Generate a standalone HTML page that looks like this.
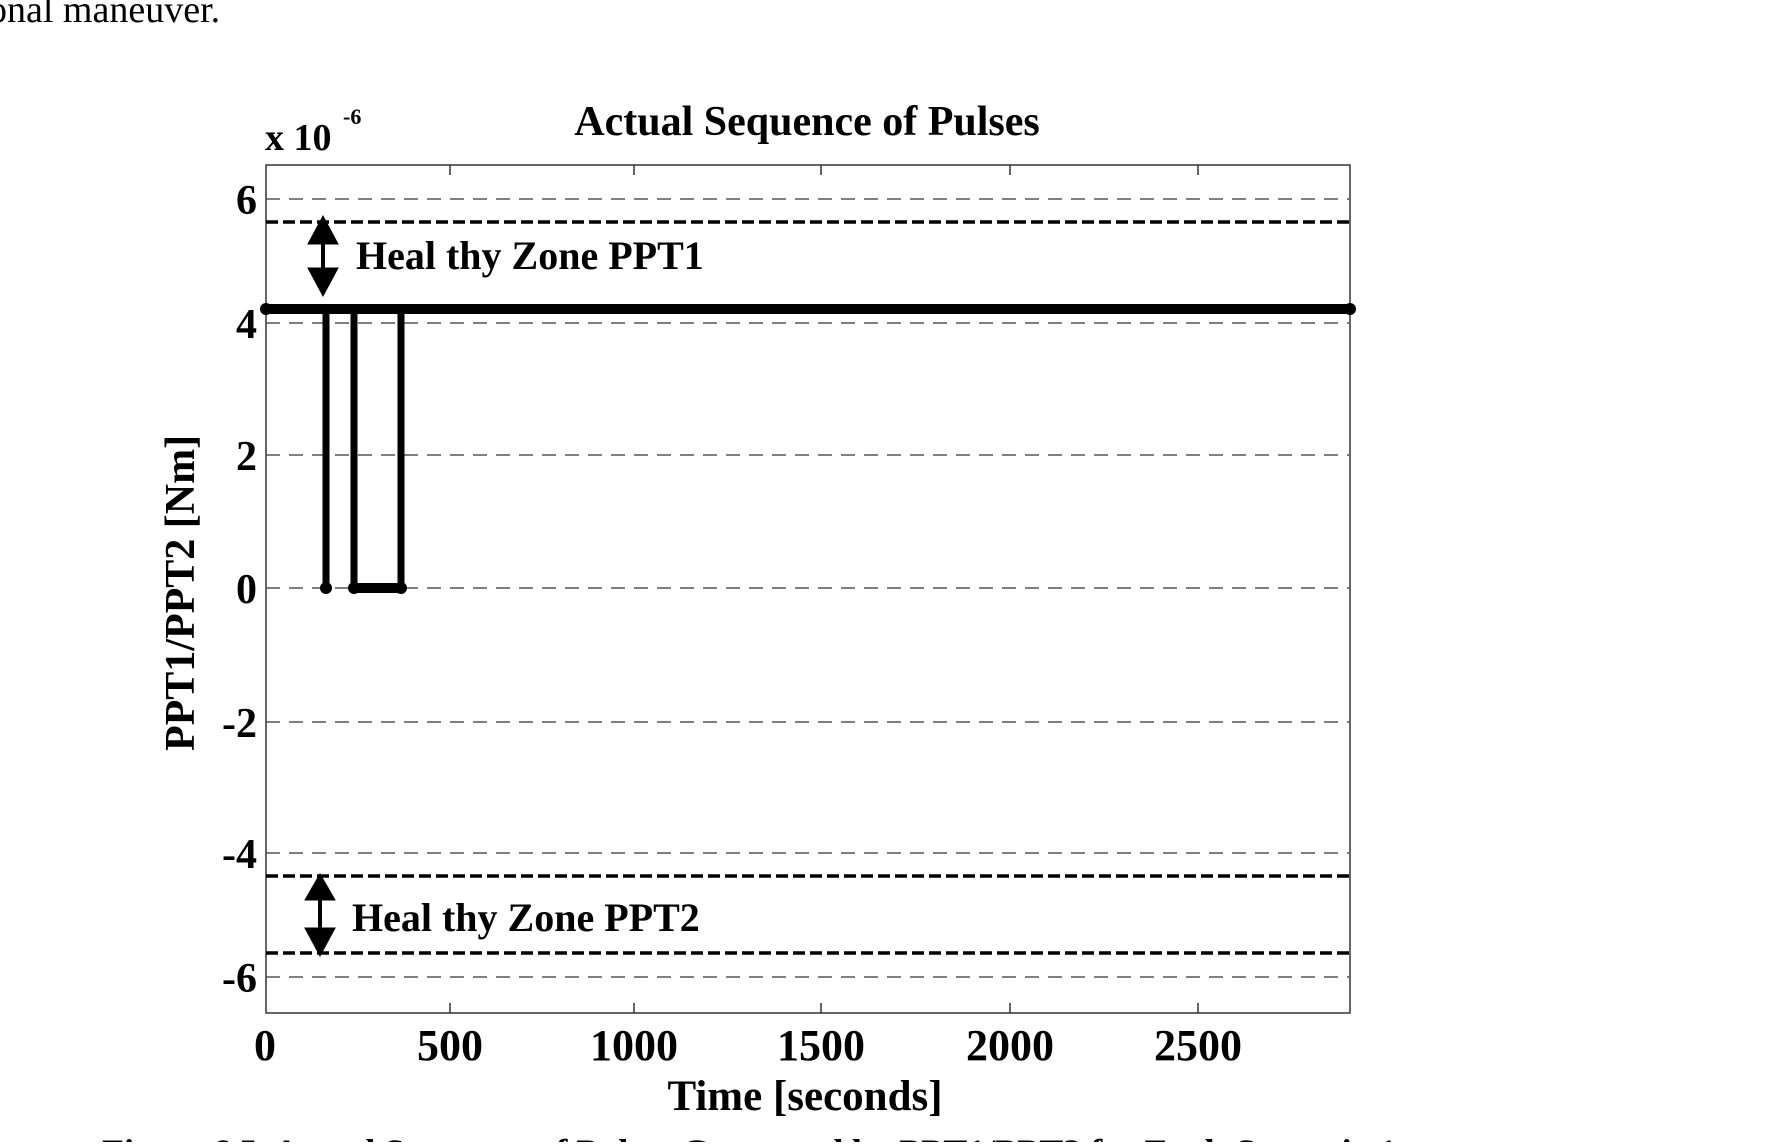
<!DOCTYPE html>
<html><head><style>
body{margin:0;background:#fff;width:1782px;height:1142px;overflow:hidden}
svg text{font-family:"Liberation Serif",serif;font-weight:bold;fill:#000}
</style></head><body>
<svg width="1782" height="1142" viewBox="0 0 1782 1142">
<text x="-12" y="22" font-size="38" style="font-weight:normal">onal maneuver.</text>
<text x="807" y="135" font-size="42" text-anchor="middle">Actual Sequence of Pulses</text>
<text x="265" y="150" font-size="38">x 10</text><text x="343" y="124" font-size="22">-6</text>
<rect x="266" y="165" width="1084" height="848" fill="none" stroke="#333" stroke-width="1.5"/>
<g stroke="#555" stroke-width="1.5" stroke-dasharray="14,9">
<line x1="266" y1="199" x2="1350" y2="199"/><line x1="266" y1="323" x2="1350" y2="323"/>
<line x1="266" y1="455" x2="1350" y2="455"/><line x1="266" y1="588" x2="1350" y2="588"/>
<line x1="266" y1="722" x2="1350" y2="722"/><line x1="266" y1="853" x2="1350" y2="853"/>
<line x1="266" y1="977" x2="1350" y2="977"/>
</g>
<g stroke="#000" stroke-width="3.5" stroke-dasharray="12,5">
<line x1="266" y1="222" x2="1352" y2="222"/><line x1="266" y1="876" x2="1352" y2="876"/>
<line x1="266" y1="953" x2="1352" y2="953"/>
</g>
<g stroke="#333" stroke-width="1.5">
<line x1="450" y1="165" x2="450" y2="175"/><line x1="634" y1="165" x2="634" y2="175"/><line x1="821" y1="165" x2="821" y2="175"/><line x1="1010" y1="165" x2="1010" y2="175"/><line x1="1198" y1="165" x2="1198" y2="175"/>
<line x1="450" y1="1013" x2="450" y2="1003"/><line x1="634" y1="1013" x2="634" y2="1003"/><line x1="821" y1="1013" x2="821" y2="1003"/><line x1="1010" y1="1013" x2="1010" y2="1003"/><line x1="1198" y1="1013" x2="1198" y2="1003"/>
</g>
<polyline points="266,309 326,309 326,588 326,309 354,309 354,588 401,588 401,309 1352,309" fill="none" stroke="#000" stroke-width="7"/>
<line x1="266" y1="309" x2="1352" y2="309" stroke="#000" stroke-width="10"/>
<line x1="354" y1="588" x2="401" y2="588" stroke="#000" stroke-width="10"/>
<circle cx="266" cy="309" r="6"/><circle cx="1350" cy="309" r="6"/><circle cx="326" cy="588" r="6"/><circle cx="354" cy="588" r="6"/><circle cx="401" cy="588" r="6"/>
<g fill="#000" stroke="#000">
<line x1="323" y1="235" x2="323" y2="282" stroke-width="4"/><polygon points="308,244 338,244 323,216"/><polygon points="308,268 338,268 323,296"/>
<line x1="320" y1="890" x2="320" y2="940" stroke-width="4"/><polygon points="305,900 335,900 320,874"/><polygon points="305,928 335,928 320,956"/>
</g>
<text x="356" y="269" font-size="40">Heal thy Zone PPT1</text>
<text x="352" y="931" font-size="40">Heal thy Zone PPT2</text>
<g font-size="42" text-anchor="end">
<text x="257" y="214">6</text><text x="257" y="338">4</text><text x="257" y="470">2</text><text x="257" y="603">0</text><text x="257" y="737">-2</text><text x="257" y="868">-4</text><text x="257" y="992">-6</text>
</g>
<g font-size="44" text-anchor="middle">
<text x="265" y="1060">0</text><text x="450" y="1060">500</text><text x="634" y="1060">1000</text><text x="821" y="1060">1500</text><text x="1010" y="1060">2000</text><text x="1198" y="1060">2500</text>
</g>
<text x="805" y="1110" font-size="43" text-anchor="middle">Time [seconds]</text>
<text transform="translate(194,593) rotate(-90)" font-size="42" text-anchor="middle">PPT1/PPT2 [Nm]</text>
<text x="102" y="1164" font-size="36">Figure 6.5. Actual Sequence of Pulses Generated by PPT1/PPT2 for Fault Scenario 1</text>
</svg>
</body></html>
